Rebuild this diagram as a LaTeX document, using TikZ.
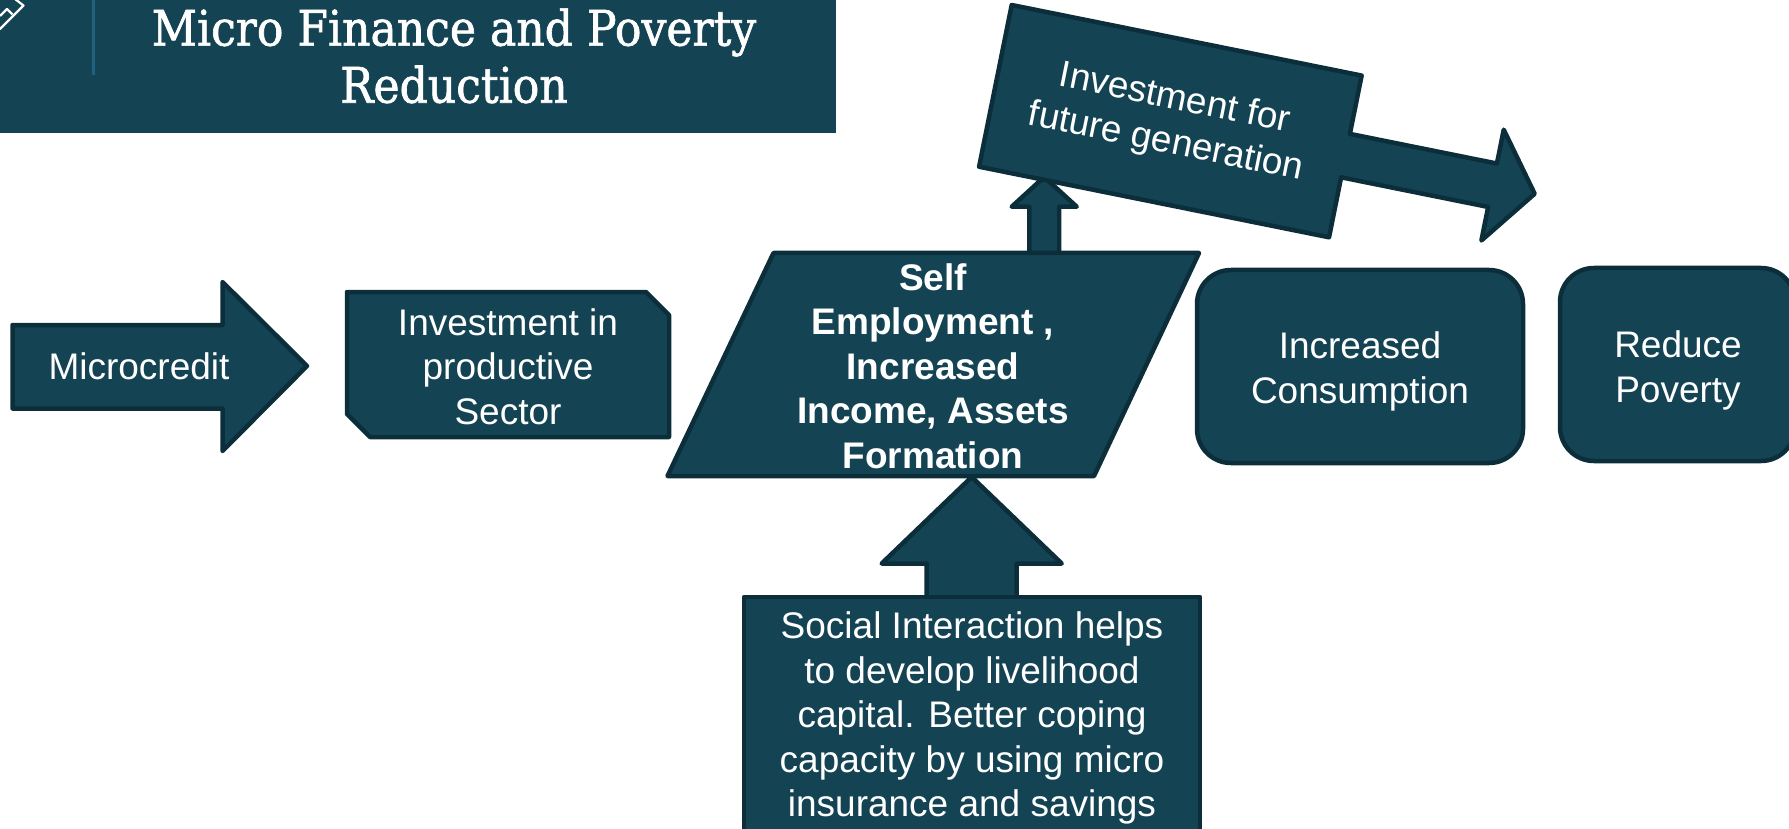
\documentclass[tikz,border=0pt]{standalone}
\usepackage{fontspec}
\setmainfont{Liberation Sans}
\newfontfamily\titlefont[FakeStretch=0.9,FakeBold=1.3]{DejaVu Serif}
\definecolor{boxfill}{RGB}{20,68,84}
\definecolor{boxline}{RGB}{11,46,58}
\definecolor{accentline}{RGB}{31,98,128}

\begin{document}
\begin{tikzpicture}[x=1pt,y=-1pt,
  blockshape/.style={fill=boxfill, draw=boxline, line width=4.5pt, line join=round},
  label/.style={text=white, align=center, inner sep=0pt,
    font=\fontsize{37}{44.5}\selectfont},
  titletext/.style={text=white, inner sep=0pt, anchor=base,
    font=\titlefont\fontsize{49}{57}\selectfont},
]
\useasboundingbox (0,0) rectangle (1789,829);

% title banner
\fill[boxfill] (0,0) rectangle (836,133.5);
\draw[accentline, line width=2.5pt] (93.5,0) -- (93.5,75);
\draw[white, line width=2.2pt, line join=round, line cap=round]
  (15,-1) -- (23.5,5.5) -- (0,29);
\draw[white, line width=2.2pt, line join=round]
  (0,16) -- (7,9) -- (12.5,14.5);
\node[titletext] (title1) at (454,45.6) {Micro Finance and Poverty};
\node[titletext] (title2) at (454,102.7) {Reduction};

% microcredit block arrow
\draw[blockshape] (12.5,325) -- (222.5,325) -- (222.5,282) -- (307,366)
  -- (222.5,451) -- (222.5,408.5) -- (12.5,408.5) -- cycle;
\node[label] (micro) at (139,366) {Microcredit};

% snipped box
\draw[blockshape] (347,292) -- (646,292) -- (669,315) -- (669,437)
  -- (370,437) -- (347,414) -- cycle;
\node[label] (invest) at (508,366.5) {Investment in\\productive\\Sector};

% small up arrow towards the slanted arrow
\draw[blockshape] (1029.3,258) -- (1029.3,206.7) -- (1011.7,206.7) -- (1044.2,177)
  -- (1076.7,206.7) -- (1059,206.7) -- (1059,258);

% parallelogram
\draw[blockshape] (773.5,253) -- (1199,253) -- (1094,476) -- (667.5,476) -- cycle;
\node[label, font=\bfseries\fontsize{37}{44.5}\selectfont] (self) at (933,366)
  {Self\\Employment ,\\Increased\\Income, Assets\\Formation};

% slanted block arrow
\begin{scope}[shift={(1011.7,5)}, rotate=-11.4]
  \draw[blockshape] (0,0) -- (357,0) -- (357,59.5) -- (507,59.5) -- (507,25)
    -- (550,81.7) -- (507,138) -- (507,103.8) -- (357,103.8) -- (357,165)
    -- (0,165) -- cycle;
  \node[label, rotate=-11.4] (future) at (178.5,82.5)
    {Investment for\\future generation};
\end{scope}

% rounded boxes
\draw[blockshape, rounded corners=34pt] (1197,270) rectangle (1523,463);
\node[label] (consume) at (1360,371.5) {Increased\\Consumption};
\draw[blockshape, rounded corners=34pt] (1560,268) rectangle (1795,461);
\node[label] (poverty) at (1678,370.5) {Reduce\\Poverty};

% bottom up arrow and box
\draw[blockshape] (926.7,602) -- (926.7,563.5) -- (881.7,563.5) -- (971.7,477)
  -- (1061.7,563.5) -- (1016.7,563.5) -- (1016.7,602);
\draw[blockshape] (744,597) rectangle (1200,845);
\node[label] (social) at (972,718)
  {Social Interaction helps\\to develop livelihood\\capital. Better coping\\capacity by using micro\\insurance and savings};
\end{tikzpicture}
\end{document}
